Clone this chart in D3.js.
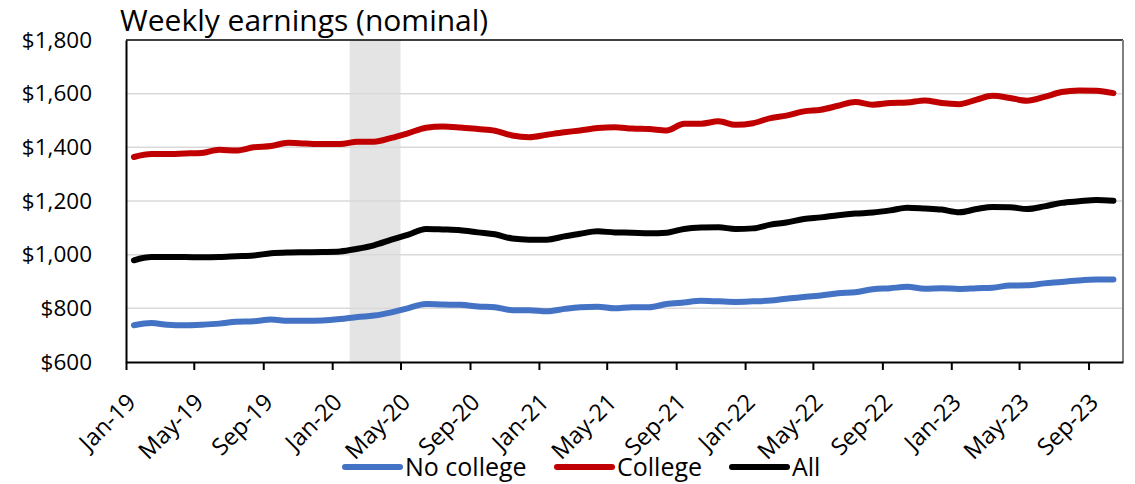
<!DOCTYPE html>
<html>
<head>
<meta charset="utf-8">
<script src="https://cdn.jsdelivr.net/npm/d3@7"></script>
<style>
  body { margin: 0; background: #fff; }
  svg { display: block; font-family: 'Open Sans', Lato, sans-serif; }
</style>
</head>
<body>
<div id="chart"></div>
<script>
// monthly data, Jan-19 .. Oct-23
var firstMonth = '2019-01'
var lastMonth = '2023-10'

var noCollege = [737, 745, 739, 737, 739, 743, 750, 752, 758, 754, 754, 755,
    760, 768, 773, 785, 801, 816, 814, 813, 807, 804, 793, 793,
    789, 798, 804, 806, 800, 804, 804, 816, 822, 828, 826, 824,
    826, 829, 836, 842, 848, 856, 860, 871, 875, 880, 873, 875,
    872, 875, 877, 885, 886, 893, 898, 904, 907, 907]

var college = [1364, 1375, 1375, 1377, 1379, 1391, 1388, 1400, 1405, 1417, 1414, 1412,
    1412, 1421, 1421, 1435, 1453, 1473, 1478, 1474, 1468, 1462, 1444, 1438,
    1447, 1456, 1463, 1472, 1475, 1470, 1468, 1463, 1488, 1488, 1497, 1484,
    1490, 1509, 1518, 1534, 1540, 1555, 1569, 1559, 1565, 1567, 1575, 1565,
    1561, 1578, 1592, 1584, 1574, 1588, 1606, 1612, 1611, 1602]

var all = [979, 991, 991, 991, 990, 991, 994, 997, 1005, 1008, 1009, 1010,
    1012, 1022, 1035, 1056, 1075, 1096, 1094, 1091, 1083, 1076, 1060, 1056,
    1056, 1068, 1078, 1087, 1083, 1082, 1080, 1082, 1096, 1101, 1102, 1096,
    1098, 1112, 1120, 1133, 1139, 1147, 1153, 1157, 1165, 1175, 1172, 1168,
    1158, 1170, 1178, 1177, 1170, 1180, 1193, 1199, 1204, 1201]

var seriesNames = ['No college', 'College', 'All']
var seriesColors = ['#4472C4', '#C00000', '#000000']

var recession = ['2020-02', '2020-05']
var yTicks = [600, 800, 1000, 1200, 1400, 1600, 1800]
var title = 'Weekly earnings (nominal)'

var size = ({width: 1135, height: 484})
var margin = ({top: 40, right: 12, bottom: 122, left: 126})

var parseMonth = d3.timeParse('%Y-%m')
var months = d3.timeMonth.range(parseMonth(firstMonth), d3.timeMonth.offset(parseMonth(lastMonth), 1))

var x = d3.scaleTime()
    .domain([parseMonth('2019-01'), parseMonth('2023-11')])
    .range([margin.left, size.width - margin.right])

var y = d3.scaleLinear()
    .domain([600, 1800])
    .range([size.height - margin.bottom, margin.top])

const svg = d3.select('#chart')
    .append('svg')
    .attr('width', size.width)
    .attr('height', size.height)

// recession shading
svg.append('rect')
    .attr('x', x(parseMonth(recession[0])))
    .attr('y', y(1800))
    .attr('width', x(parseMonth(recession[1])) - x(parseMonth(recession[0])))
    .attr('height', y(600) - y(1800))
    .attr('fill', '#e4e4e4')

// gridlines
svg.append('g')
    .selectAll('line')
    .data(yTicks.slice(1, -1))
    .join('line')
        .attr('x1', x.range()[0])
        .attr('x2', x.range()[1])
        .attr('y1', d => y(d))
        .attr('y2', d => y(d))
        .attr('stroke', '#d9d9d9')
        .attr('stroke-width', 1.5)

// plot frame top / right
svg.append('line')
    .attr('x1', x.range()[0]).attr('x2', x.range()[1])
    .attr('y1', y(1800)).attr('y2', y(1800))
    .attr('stroke', '#000').attr('stroke-width', 1.5)
svg.append('line')
    .attr('x1', x.range()[1]).attr('x2', x.range()[1])
    .attr('y1', y(1800)).attr('y2', y(600))
    .attr('stroke', '#7f7f7f').attr('stroke-width', 2)

// lines
var data = [noCollege, college, all]
var line = d3.line()
    .x((d, i) => x(d3.timeDay.offset(months[i], 14)))
    .y(d => y(d))
    .curve(d3.curveMonotoneX)

svg.append('g')
    .selectAll('path')
    .data(data)
    .join('path')
        .attr('fill', 'none')
        .attr('stroke', (d, i) => seriesColors[i])
        .attr('stroke-width', 6)
        .attr('stroke-linejoin', 'round')
        .attr('stroke-linecap', 'round')
        .attr('d', line)

// y axis
var yAxis = svg.append('g')
    .attr('transform', `translate(${margin.left}, 0)`)
    .call(d3.axisLeft(y).tickValues(yTicks).tickSize(0).tickPadding(34)
        .tickFormat(d => '$' + d3.format(',')(d)))
    .attr('font-family', null)
    .attr('font-size', null)
yAxis.select('.domain').attr('stroke', '#000').attr('stroke-width', 2)
yAxis.selectAll('text').attr('font-size', 22.5).attr('fill', '#000')

// x axis
var xAxis = svg.append('g')
    .attr('transform', `translate(0, ${y(600)})`)
    .call(d3.axisBottom(x).ticks(d3.timeMonth.every(4)).tickSize(8).tickSizeOuter(0)
        .tickFormat(d3.timeFormat('%b-%y')))
    .attr('font-family', null)
    .attr('font-size', null)
xAxis.select('.domain').attr('stroke', '#000').attr('stroke-width', 2)
xAxis.selectAll('.tick line').attr('stroke', '#000').attr('stroke-width', 2)
xAxis.selectAll('text')
    .attr('font-size', 23.5)
    .attr('fill', '#000')
    .attr('x', 0)
    .attr('y', 0)
    .attr('dy', '0.35em')
    .attr('transform', 'translate(5, 36) rotate(-45)')
    .style('text-anchor', 'end')

// title
svg.append('text')
    .attr('x', 120)
    .attr('y', 31)
    .attr('font-size', 30)
    .text(title)

// legend
var legendX = [345, 557, 732]
var legend = svg.append('g')
    .selectAll('g')
    .data(seriesNames)
    .join('g')
        .attr('transform', (d, i) => `translate(${legendX[i]}, 467)`)
legend.append('line')
    .attr('x1', 0).attr('x2', 55)
    .attr('stroke', (d, i) => seriesColors[i])
    .attr('stroke-width', 6)
    .attr('stroke-linecap', 'round')
legend.append('text')
    .attr('x', 60)
    .attr('dy', '0.35em')
    .attr('font-size', 25)
    .text(d => d)
</script>
</body>
</html>
